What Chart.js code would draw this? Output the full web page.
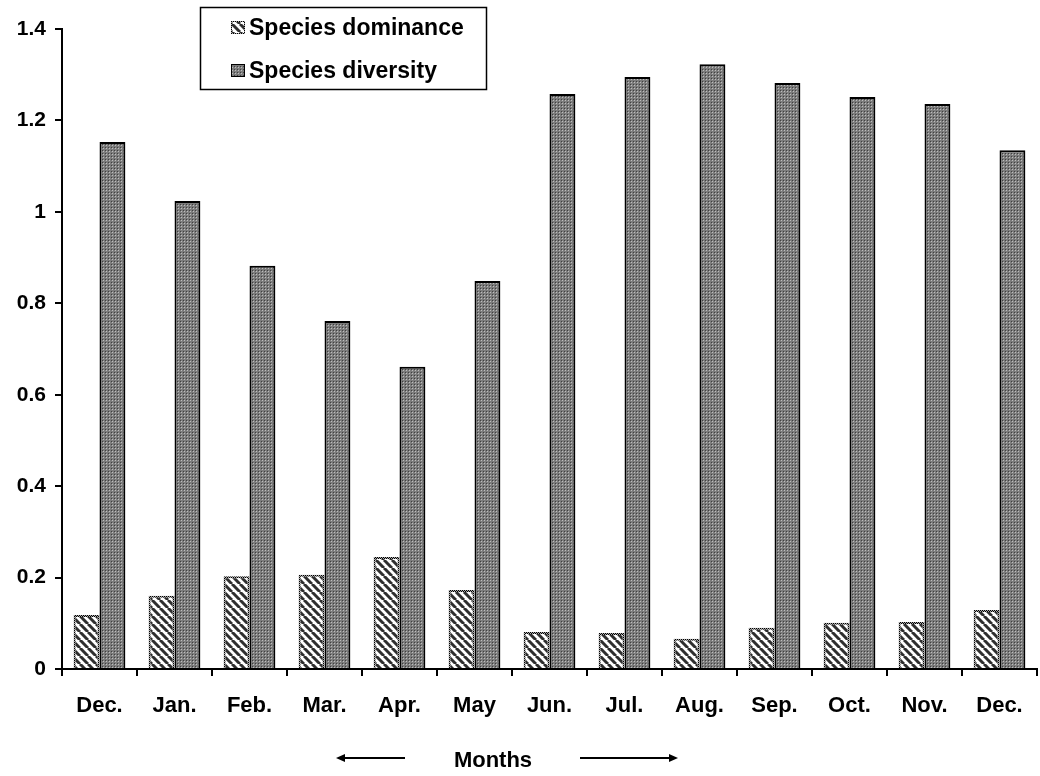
<!DOCTYPE html>
<html>
<head>
<meta charset="utf-8">
<title>Species dominance and diversity</title>
<script src="https://cdn.jsdelivr.net/npm/chart.js@4.4.1/dist/chart.umd.min.js"></script>
<style>
  html, body { margin: 0; padding: 0; background: #fff; }
  canvas { display: block; }
</style>
</head>
<body>
<canvas id="grafico" width="1040" height="776"></canvas>
<script>
const meses = ["Dec.", "Jan.", "Feb.", "Mar.", "Apr.", "May", "Jun.", "Jul.", "Aug.", "Sep.", "Oct.", "Nov.", "Dec."];
const dominancia = [0.118, 0.160, 0.203, 0.206, 0.245, 0.173, 0.081, 0.079, 0.066, 0.090, 0.101, 0.103, 0.129];
const diversidad = [1.153, 1.024, 0.882, 0.761, 0.661, 0.849, 1.258, 1.295, 1.323, 1.282, 1.251, 1.236, 1.135];
const etiquetasY = ["0", "0.2", "0.4", "0.6", "0.8", "1", "1.2", "1.4"];
const tituloX = "Months";

const FUENTE = '"Liberation Sans", Arial, sans-serif';
const ctxBase = document.getElementById("grafico").getContext("2d");

// rayas diagonales para la dominancia
function patronRayas() {
  const c = document.createElement("canvas");
  c.width = 8; c.height = 8;
  const g = c.getContext("2d");
  g.fillStyle = "#fff";
  g.fillRect(0, 0, 8, 8);
  g.strokeStyle = "#2e2e2e";
  g.lineWidth = 3;
  for (const a of [-8, 0, 8]) {
    g.beginPath();
    g.moveTo(a, 0);
    g.lineTo(a + 8, 8);
    g.stroke();
  }
  return ctxBase.createPattern(c, "repeat");
}

// trama gris punteada para la diversidad
function patronPuntos() {
  const c = document.createElement("canvas");
  c.width = 3; c.height = 3;
  const g = c.getContext("2d");
  g.fillStyle = "#7c7c7c";
  g.fillRect(0, 0, 3, 3);
  g.fillStyle = "#404040";
  g.fillRect(0, 0, 1, 1);
  g.fillStyle = "#bdbdbd";
  g.fillRect(1, 1, 1, 1);
  return ctxBase.createPattern(c, "repeat");
}

// borde punteado
function patronBorde() {
  const c = document.createElement("canvas");
  c.width = 2; c.height = 2;
  const g = c.getContext("2d");
  g.fillStyle = "#000";
  g.fillRect(0, 0, 2, 2);
  g.fillStyle = "#aaa";
  g.fillRect(1, 0, 1, 1);
  g.fillRect(0, 1, 1, 1);
  return ctxBase.createPattern(c, "repeat");
}

const rayas = patronRayas();
const puntos = patronPuntos();
const bordePunteado = patronBorde();

// leyenda en caja, arriba a la izquierda
const leyendaCaja = {
  id: "leyendaCaja",
  afterDraw(chart) {
    const ctx = chart.ctx;
    ctx.save();
    ctx.fillStyle = "#fff";
    ctx.fillRect(200, 7, 286, 82);
    ctx.strokeStyle = "#000";
    ctx.lineWidth = 1.5;
    ctx.strokeRect(200.5, 7.5, 286, 82);
    const filas = [28, 71];
    chart.data.datasets.forEach((ds, i) => {
      const y = filas[i];
      ctx.fillStyle = ds.backgroundColor;
      ctx.fillRect(231, y - 7, 14, 13);
      ctx.lineWidth = 1;
      ctx.strokeStyle = i === 0 ? bordePunteado : "#000";
      ctx.strokeRect(231.5, y - 6.5, 13, 12);
      ctx.fillStyle = "#000";
      ctx.font = "bold 23px " + FUENTE;
      ctx.textBaseline = "middle";
      ctx.textAlign = "left";
      ctx.fillText(ds.label, 249, y + 1);
    });
    ctx.restore();
  }
};

// titulo del eje x con flechas
const tituloMeses = {
  id: "tituloMeses",
  afterDraw(chart) {
    const ctx = chart.ctx;
    const y = 760;
    ctx.save();
    ctx.fillStyle = "#000";
    ctx.strokeStyle = "#000";
    ctx.font = "bold 22px " + FUENTE;
    ctx.textAlign = "center";
    ctx.textBaseline = "middle";
    ctx.fillText(tituloX, 493, y + 1);
    ctx.lineWidth = 2;
    ctx.beginPath();
    ctx.moveTo(405, y - 2); ctx.lineTo(343, y - 2);
    ctx.moveTo(580, y - 2); ctx.lineTo(671, y - 2);
    ctx.stroke();
    ctx.beginPath();
    ctx.moveTo(336, y - 2); ctx.lineTo(345, y - 6); ctx.lineTo(345, y + 2); ctx.closePath();
    ctx.moveTo(678, y - 2); ctx.lineTo(669, y - 6); ctx.lineTo(669, y + 2); ctx.closePath();
    ctx.fill();
    ctx.restore();
  }
};

new Chart(ctxBase, {
  type: "bar",
  data: {
    labels: meses,
    datasets: [
      {
        label: "Species dominance",
        data: dominancia,
        backgroundColor: rayas,
        borderColor: bordePunteado,
        borderWidth: 2
      },
      {
        label: "Species diversity",
        data: diversidad,
        backgroundColor: puntos,
        borderColor: "#000",
        borderWidth: 2
      }
    ]
  },
  options: {
    responsive: false,
    animation: false,
    devicePixelRatio: 1,
    layout: { padding: { top: 29, right: 3, left: 0, bottom: 0 } },
    datasets: { bar: { categoryPercentage: 0.69, barPercentage: 1.0 } },
    plugins: {
      legend: { display: false },
      tooltip: { enabled: false }
    },
    scales: {
      x: {
        afterFit(scale) { scale.height = 776 - 669; },
        grid: {
          offset: true,
          drawOnChartArea: false,
          color: "#000",
          lineWidth: 2,
          tickLength: 7
        },
        border: { color: "#000", width: 2 },
        ticks: {
          color: "#000",
          padding: 17,
          font: { family: FUENTE, size: 22, weight: "bold" }
        }
      },
      y: {
        min: 0,
        max: 1.4,
        afterFit(scale) { scale.width = 62; },
        grid: {
          drawOnChartArea: false,
          color: "#000",
          lineWidth: 2,
          tickLength: 7
        },
        border: { color: "#000", width: 2 },
        ticks: {
          stepSize: 0.2,
          color: "#000",
          padding: 9,
          font: { family: FUENTE, size: 21, weight: "bold" },
          callback: (v, i) => etiquetasY[i]
        }
      }
    }
  },
  plugins: [leyendaCaja, tituloMeses]
});
</script>
</body>
</html>
